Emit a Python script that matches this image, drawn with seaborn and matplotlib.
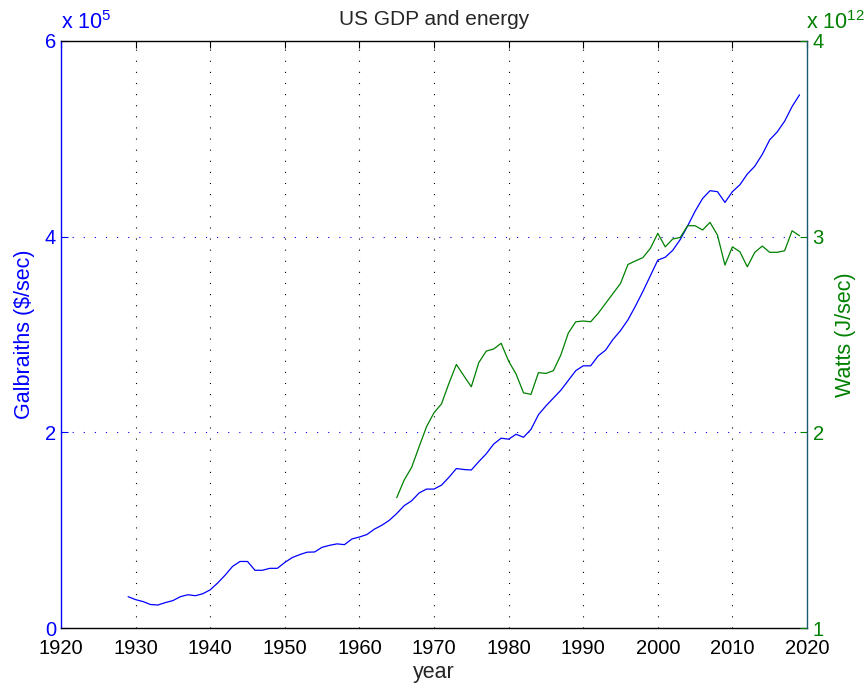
import numpy as np
import matplotlib
matplotlib.use('Agg')
import matplotlib.pyplot as plt
import seaborn as sns

# GDP in units of 1e5 $/sec, 1929-2019
gdp_years = list(range(1929, 2020))
gdp = [0.32, 0.29, 0.27, 0.24, 0.235, 0.26, 0.28, 0.32, 0.34, 0.33,
       0.35, 0.39, 0.46, 0.54, 0.63, 0.68, 0.68, 0.59, 0.59, 0.61,
       0.61, 0.67, 0.72, 0.75, 0.775, 0.777, 0.825, 0.845, 0.86, 0.852,
       0.91, 0.93, 0.955, 1.01, 1.05, 1.10, 1.17, 1.25, 1.30, 1.38,
       1.42, 1.42, 1.46, 1.54, 1.63, 1.62, 1.615, 1.70, 1.78, 1.88,
       1.94, 1.93, 1.98, 1.95, 2.03, 2.18, 2.27, 2.35, 2.43, 2.53,
       2.63, 2.68, 2.68, 2.78, 2.84, 2.95, 3.04, 3.15, 3.29, 3.44,
       3.60, 3.76, 3.79, 3.86, 3.97, 4.11, 4.26, 4.39, 4.47, 4.46,
       4.35, 4.46, 4.53, 4.64, 4.72, 4.84, 4.99, 5.07, 5.18, 5.33,
       5.45]

# energy use in units of 1e12 J/sec, 1965-2019
energy_years = list(range(1965, 2020))
energy = [1.666, 1.756, 1.821, 1.926, 2.029, 2.100, 2.145, 2.250, 2.347, 2.289,
          2.233, 2.356, 2.415, 2.426, 2.455, 2.364, 2.298, 2.202, 2.194, 2.305,
          2.301, 2.315, 2.395, 2.507, 2.565, 2.569, 2.565, 2.608, 2.659, 2.710,
          2.761, 2.858, 2.876, 2.893, 2.940, 3.017, 2.948, 2.988, 2.996, 3.056,
          3.056, 3.034, 3.073, 3.008, 2.855, 2.948, 2.923, 2.846, 2.920, 2.952,
          2.920, 2.920, 2.928, 3.030, 3.005]

x_ticks = list(range(1920, 2021, 10))
left_ticks = [0, 2, 4, 6]
right_ticks = [1, 2, 3, 4]

sns.set_style('white')
plt.rcParams['font.family'] = ['Liberation Sans', 'DejaVu Sans']
plt.rcParams['mathtext.fontset'] = 'custom'
plt.rcParams['mathtext.rm'] = 'Liberation Sans'
plt.rcParams['mathtext.it'] = 'Liberation Sans'

BLUE = '#0000ff'
GREEN = '#008000'
dots = (0, (1, 9))

fig = plt.figure(figsize=(8.64, 6.83), dpi=100)
ax = fig.add_axes([61 / 864, 55 / 683, 746 / 864, 587 / 683])
ax2 = ax.twinx()

sns.lineplot(x=gdp_years, y=gdp, ax=ax, color=BLUE, lw=0.9)
sns.lineplot(x=energy_years, y=energy, ax=ax2, color=GREEN, lw=0.9)

ax.set_xlim(1920, 2020)
ax.set_ylim(0, 6)
ax2.set_ylim(1, 4)
ax.set_xticks(x_ticks)
ax.set_yticks(left_ticks)
ax2.set_yticks(right_ticks)

# dotted grid, matlab style
for xt in x_ticks[1:-1]:
    ax.axvline(xt, color='black', lw=0.8, linestyle=dots, zorder=0)
for yt in left_ticks[1:-1]:
    ax.axhline(yt, color=BLUE, lw=0.8, linestyle=dots, zorder=0)

ax.tick_params(axis='x', direction='in', length=5, width=0.8, colors='black',
               labelsize=14.5, top=True, pad=8)
ax.tick_params(axis='y', direction='in', length=5, width=0.8, colors=BLUE,
               labelsize=14.5, right=False)
ax2.tick_params(axis='y', direction='in', length=5, width=0.8, colors=GREEN,
                labelsize=14.5, pad=4)

for s in ['top', 'bottom']:
    ax.spines[s].set_color('black')
    ax.spines[s].set_linewidth(1.0)
ax.spines['left'].set_color(BLUE)
ax.spines['right'].set_visible(False)
ax2.spines['left'].set_visible(False)
ax2.spines['top'].set_visible(False)
ax2.spines['bottom'].set_visible(False)
ax2.spines['right'].set_color('#1a5a70')
ax.spines['left'].set_linewidth(1.0)
ax2.spines['right'].set_linewidth(1.0)

ax.set_xlabel('year', fontsize=15.5, labelpad=3)
ax.set_ylabel(r'Galbraiths (\$/sec)', fontsize=15.5, color=BLUE, labelpad=7)
ax2.set_ylabel('Watts (J/sec)', fontsize=15.5, color=GREEN, labelpad=8)
ax.set_title('US GDP and energy', fontsize=15, pad=11.5)

ax.text(0.0, 1.012, r'x 10$^{5}$', transform=ax.transAxes, color=BLUE,
        fontsize=15.5, ha='left', va='bottom')
ax2.text(0.999, 1.012, r'x 10$^{12}$', transform=ax2.transAxes, color=GREEN,
         fontsize=15.5, ha='left', va='bottom')

fig.savefig('out.png', dpi=100)
